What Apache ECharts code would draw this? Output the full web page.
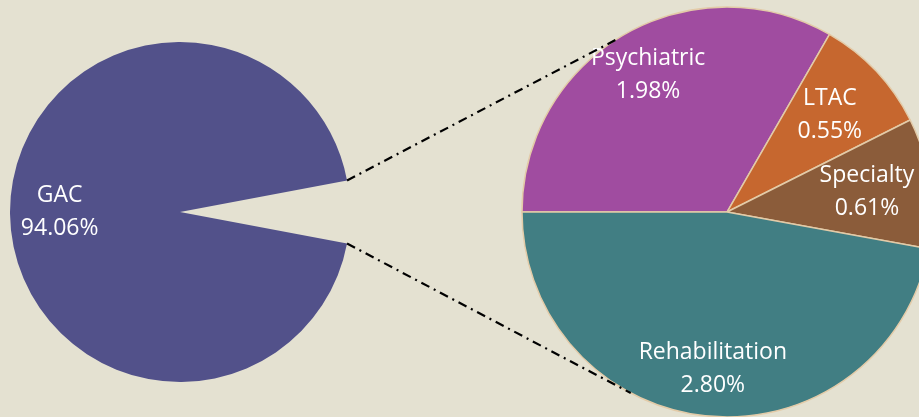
<!DOCTYPE html>
<html>
<head>
<meta charset="utf-8">
<script src="https://cdn.jsdelivr.net/npm/echarts@6/dist/echarts.min.js"></script>
<style>
html,body{margin:0;padding:0;background:#e4e1d1;}
#chart{width:919px;height:417px;}
</style>
</head>
<body>
<div id="chart"></div>
<script>
// ---- data ----
var mainCategories = ['GAC', 'Other'];
var mainValues = [94.06, 5.94];
var subCategories = ['Psychiatric', 'LTAC', 'Specialty', 'Rehabilitation'];
var subValues = [1.98, 0.55, 0.61, 2.80];

// ---- styling / layout ----
var mainColor = '#52518a';
var subColors = ['#a04ca0', '#c6672f', '#8b5c3a', '#417e83'];
var bg = '#e4e1d1';
var leftCenter = [180, 212], leftR = 170;
var rightCenter = [727, 212], rightR = 205;
var fontFam = '"Open Sans", "Liberation Sans", sans-serif';
var outerLabelNames = ['Psychiatric', 'Rehabilitation']; // labels placed further out

var gapHalfDeg = mainValues[1] / (mainValues[0] + mainValues[1]) * 360 / 2;

var leftData = [
  { name: mainCategories[1], value: mainValues[1], itemStyle: { color: 'rgba(0,0,0,0)' } },
  { name: mainCategories[0], value: mainValues[0], itemStyle: { color: mainColor } }
];
var leftLabelData = [
  { name: mainCategories[1], value: mainValues[1], label: { show: false } },
  { name: mainCategories[0], value: mainValues[0] }
];
var rightData = subCategories.map(function (n, i) {
  return { name: n, value: subValues[i], itemStyle: { color: subColors[i] } };
});
function rightLabelData(outer) {
  return subCategories.map(function (n, i) {
    var isOuter = outerLabelNames.indexOf(n) >= 0;
    return { name: n, value: subValues[i], label: { show: isOuter === outer } };
  });
}

function pt(c, r, deg) {
  var a = deg * Math.PI / 180;
  return [c[0] + r * Math.cos(a), c[1] - r * Math.sin(a)];
}
var p1 = pt(leftCenter, leftR, gapHalfDeg);
var p2 = pt(leftCenter, leftR, -gapHalfDeg);
var q1 = pt(rightCenter, rightR, 123);
var q2 = pt(rightCenter, rightR, 242);

var labelFmt = function (p) { return p.name + '\n' + p.value.toFixed(2) + '%'; };
function labelStyle() {
  return {
    show: true, position: 'inside', color: '#ffffff', fontFamily: fontFam,
    fontSize: 23, lineHeight: 33, formatter: labelFmt
  };
}
function labelPie(center, r0, r, start, data) {
  return {
    type: 'pie', center: center, radius: [r0, r], startAngle: start,
    clockwise: true, silent: true, labelLine: { show: false }, z: 5,
    itemStyle: { color: 'rgba(0,0,0,0)' },
    label: labelStyle(), data: data
  };
}

var chart = echarts.init(document.getElementById('chart'), null, { renderer: 'canvas' });
chart.setOption({
  backgroundColor: bg,
  animation: false,
  series: [
    {
      type: 'pie', center: leftCenter, radius: [0, leftR], startAngle: gapHalfDeg,
      clockwise: true, silent: true, labelLine: { show: false },
      label: { show: false },
      data: leftData
    },
    labelPie(leftCenter, leftR * 0.38, leftR, gapHalfDeg, leftLabelData),
    {
      type: 'pie', center: rightCenter, radius: [0, rightR], startAngle: 180,
      clockwise: true, silent: true, labelLine: { show: false },
      itemStyle: { borderColor: '#e3cba8', borderWidth: 1.5 },
      label: { show: false },
      data: rightData
    },
    labelPie(rightCenter, rightR * 0.51, rightR, 180, rightLabelData(true)),
    labelPie(rightCenter, rightR * 0.35, rightR, 180, rightLabelData(false))
  ],
  graphic: [
    { type: 'line', z: 10, shape: { x1: p1[0], y1: p1[1], x2: q1[0], y2: q1[1] },
      style: { stroke: '#000', lineWidth: 2.2, lineDash: [9, 5, 2, 5] } },
    { type: 'line', z: 10, shape: { x1: p2[0], y1: p2[1], x2: q2[0], y2: q2[1] },
      style: { stroke: '#000', lineWidth: 2.2, lineDash: [9, 5, 2, 5] } }
  ]
});
</script>
</body>
</html>
